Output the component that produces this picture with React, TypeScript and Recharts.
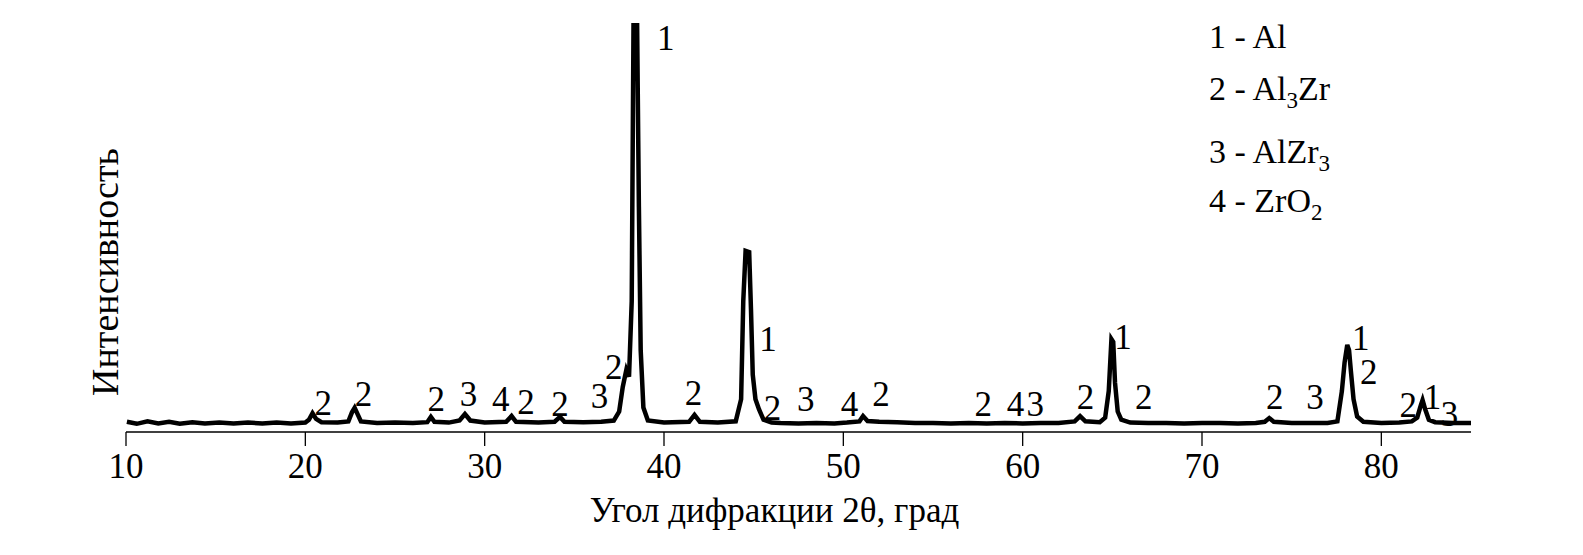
import {
  ComposedChart,
  Line,
  Scatter,
  XAxis,
  YAxis,
} from 'recharts';

// diffraction pattern, [2theta, intensity]
const lowAngle = [
  [10.05, 2.5], [10.6, 2.0], [11.2, 2.6], [11.8, 2.1], [12.4, 2.5], [13.0, 2.0],
  [13.7, 2.4], [14.4, 2.1], [15.2, 2.3], [16.0, 2.1], [16.8, 2.3], [17.6, 2.1],
  [18.4, 2.3], [19.2, 2.1], [20.0, 2.3], [20.2, 3.0], [20.4, 4.6], [20.6, 3.2],
  [20.9, 2.4], [21.8, 2.3], [22.4, 2.6], [22.6, 4.8], [22.75, 5.9], [22.9, 4.5],
  [23.1, 2.6], [24.0, 2.2], [25.0, 2.3], [26.0, 2.2], [26.8, 2.4], [27.0, 3.7],
  [27.2, 2.5], [28.0, 2.3], [28.6, 2.8], [28.9, 4.4], [29.2, 2.8], [30.0, 2.3],
  [31.2, 2.5], [31.5, 3.9], [31.75, 2.5], [33.0, 2.3], [33.9, 2.5], [34.2, 3.7],
  [34.45, 2.5], [35.5, 2.4], [36.5, 2.5],
];

const mainPeaks = [
  [37.2, 2.8], [37.5, 5.0], [37.7, 11.0], [37.9, 15.2], [38.05, 13.5],
  [38.2, 32], [38.3, 100], [38.5, 100], [38.6, 55], [38.7, 20], [38.85, 6],
  [39.1, 2.8], [40.0, 2.3], [41.4, 2.5], [41.7, 4.2], [42.0, 2.5], [43.0, 2.3],
  [44.0, 2.6], [44.3, 8], [44.42, 32], [44.55, 44.3], [44.75, 44.0], [44.85, 30],
  [44.95, 14], [45.1, 8], [45.3, 5.5], [45.55, 3.0], [46.0, 2.3],
];

const midAngle = [
  [46.5, 2.2], [47.5, 2.1], [48.5, 2.2], [49.5, 2.1], [50.2, 2.3], [50.9, 2.6],
  [51.1, 3.9], [51.35, 2.7], [52.0, 2.5], [53.0, 2.4], [54.0, 2.2], [55.0, 2.2],
  [56.0, 2.1], [57.0, 2.2], [58.0, 2.1], [59.0, 2.2], [60.0, 2.1], [61.0, 2.2],
  [62.0, 2.2], [62.9, 2.6], [63.2, 3.9], [63.5, 2.6], [64.3, 2.4], [64.6, 3.5],
  [64.8, 10], [64.95, 22.7], [65.05, 22], [65.15, 12], [65.3, 5], [65.5, 3],
  [66.0, 2.3], [67.0, 2.2],
];

const highAngle = [
  [68.0, 2.2], [69.0, 2.1], [70.0, 2.2], [71.0, 2.2], [72.0, 2.1], [73.0, 2.2],
  [73.5, 2.5], [73.75, 3.4], [74.0, 2.5], [75.0, 2.2], [76.0, 2.2], [77.0, 2.2],
  [77.55, 2.6], [77.8, 10], [77.95, 17], [78.1, 21.3], [78.2, 20], [78.3, 15],
  [78.45, 8], [78.65, 3.8], [79.0, 2.5], [80.0, 2.2], [81.0, 2.3], [81.7, 2.6],
  [82.0, 3.5], [82.2, 6.5], [82.3, 7.8], [82.45, 5.5], [82.65, 3.0], [83.0, 2.4],
  [84.0, 2.2], [85.0, 2.2],
];

// phase labels above the peaks: [2theta, height, phase number]
const peakLabels = [
  [21.0, 7.1, '2'], [23.25, 9.3, '2'], [27.3, 8.1, '2'], [29.1, 9.3, '3'],
  [30.9, 8.1, '4'], [32.3, 7.3, '2'], [34.2, 6.8, '2'], [36.4, 8.8, '3'],
  [37.2, 15.9, '2'], [40.1, 96.3, '1'], [41.65, 9.5, '2'], [45.8, 22.7, '1'],
  [46.05, 5.9, '2'], [47.9, 8.1, '3'], [50.35, 6.8, '4'], [52.1, 9.3, '2'],
  [57.8, 6.8, '2'], [59.6, 6.8, '4'], [60.7, 6.8, '3'], [63.5, 8.6, '2'],
  [65.6, 23.2, '1'], [66.75, 8.6, '2'], [74.05, 8.6, '2'], [76.3, 8.6, '3'],
  [78.85, 23.0, '1'], [79.3, 14.6, '2'], [81.5, 6.6, '2'], [82.85, 8.6, '1'],
  [83.8, 4.4, '3'],
];

const xTicks = [10, 20, 30, 40, 50, 60, 70, 80];

const font = '"Liberation Serif", "Times New Roman", serif';

const pattern = [...lowAngle, ...mainPeaks, ...midAngle, ...highAngle].map(
  ([x, y]) => ({ x, y })
);
const labels = peakLabels.map(([x, y, text]) => ({ x, y, text }));

const PhaseLabel = (props: any) => {
  const { cx, cy, payload } = props;
  return (
    <text
      x={cx}
      y={cy + 12}
      textAnchor="middle"
      fontSize={35}
      fontFamily={font}
      fill="#000"
    >
      {payload.text}
    </text>
  );
};

export default function App() {
  return (
    <div style={{ position: 'absolute', left: 0, top: 0, width: 1583, height: 555, background: '#fff' }}>
      <ComposedChart
        width={1583}
        height={555}
        margin={{ top: 23, right: 112, bottom: 0, left: 126 }}
      >
        <XAxis
          type="number"
          dataKey="x"
          domain={[10, 85]}
          ticks={xTicks}
          allowDataOverflow
          height={123}
          tickSize={14}
          tickMargin={7}
          stroke="#000"
          strokeWidth={1.3}
          tick={{ fill: '#000', fontSize: 35, fontFamily: font }}
          label={{
            value: 'Угол дифракции 2θ, град',
            position: 'insideBottom',
            offset: 33,
            dx: -24,
            fill: '#000',
            fontSize: 35,
            fontFamily: font,
          }}
        />
        <YAxis type="number" dataKey="y" domain={[0, 100]} allowDataOverflow hide />
        <Line
          data={pattern}
          dataKey="y"
          type="linear"
          stroke="#000"
          strokeWidth={4.5}
          dot={false}
          activeDot={false}
          isAnimationActive={false}
        />
        <Scatter
          data={labels}
          dataKey="y"
          shape={PhaseLabel}
          isAnimationActive={false}
        />
      </ComposedChart>
      <svg
        width={1583}
        height={555}
        style={{ position: 'absolute', left: 0, top: 0, pointerEvents: 'none' }}
        fontFamily={font}
        fill="#000"
      >
        <text x={118} y={272} fontSize={38} textAnchor="middle" transform="rotate(-90 118 272)">
          Интенсивность
        </text>
        <g fontSize={34}>
          <text x={1209} y={48}>1 - Al</text>
          <text x={1209} y={100}>
            2 - Al<tspan fontSize={23} dy={8}>3</tspan>
            <tspan dy={-8}>Zr</tspan>
          </text>
          <text x={1209} y={163}>
            3 - AlZr<tspan fontSize={23} dy={8}>3</tspan>
          </text>
          <text x={1209} y={212}>
            4 - ZrO<tspan fontSize={23} dy={8}>2</tspan>
          </text>
        </g>
      </svg>
    </div>
  );
}
